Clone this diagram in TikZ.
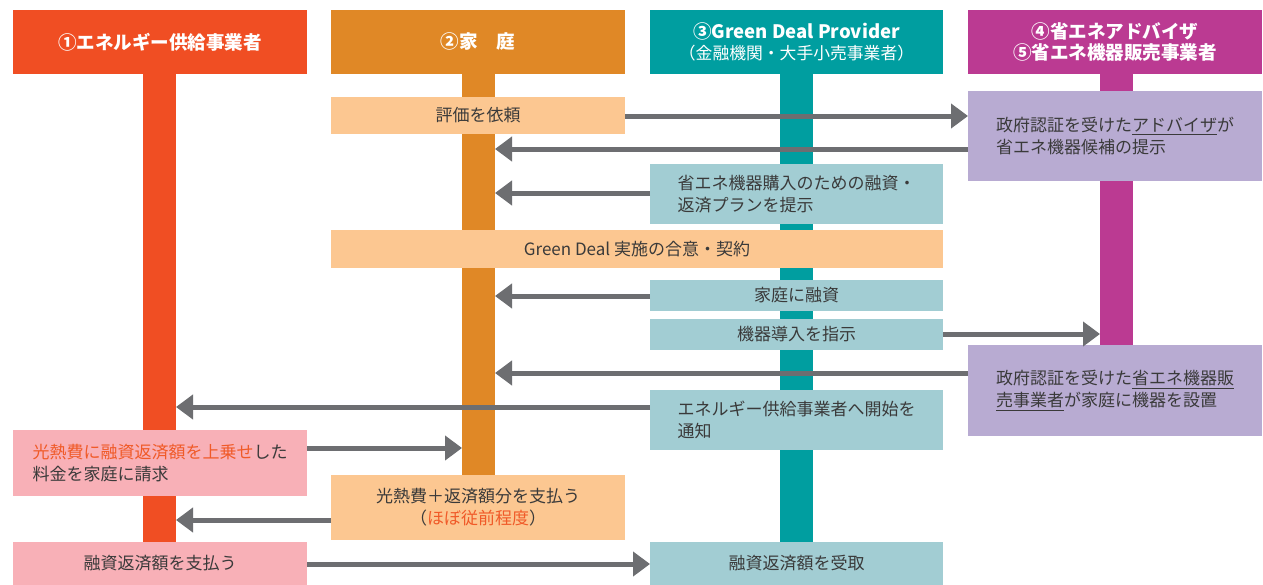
\documentclass[tikz,border=0pt]{standalone}
\usepackage{fontspec}
\setmainfont{Noto Sans CJK JP}
\usetikzlibrary{arrows.meta}
\definecolor{cA}{HTML}{F04E23}
\definecolor{cB}{HTML}{E08826}
\definecolor{cC}{HTML}{009EA0}
\definecolor{cD}{HTML}{BB3A92}
\definecolor{lOr}{HTML}{FCC791}
\definecolor{lTe}{HTML}{A2CDD3}
\definecolor{lPu}{HTML}{B8ABD2}
\definecolor{lPi}{HTML}{F8B0B7}
\definecolor{arrg}{HTML}{6D6E71}
\definecolor{txt}{HTML}{3A3A3A}
\definecolor{hl}{HTML}{F05A28}
\newcommand\bx[7]{\node[#6, minimum width={(#4-#2)*0.75pt}, minimum height={(#5-#3)*0.75pt}] (#1) at ({(#2+#4)/2},{(#3+#5)/2}) {#7};}
\tikzset{
  box/.style={inner sep=0pt, outer sep=0pt, text=txt, font=\fontsize{12.75}{16.5}\selectfont, align=center},
  hdr/.style={box, text=white, font=\fontsize{13.9}{15.75}\selectfont\bfseries},
  bar/.style={inner sep=0pt, outer sep=0pt},
  arr/.style={draw=arrg, line width=3.75pt, -{Triangle[length=12.75pt,width=18pt]}}
}
\begin{document}
\begin{tikzpicture}[x=0.75pt,y=-0.75pt]
\useasboundingbox[fill=white] (0,0) rectangle (1263,585);
% headers
\bx{h1}{13}{10}{307}{74}{hdr,fill=cA}{①エネルギー供給事業者}
\bx{h2}{331}{10}{625}{74}{hdr,fill=cB}{②家　庭}
\bx{h3}{650}{10}{943}{74}{hdr,fill=cC}{③Green Deal Provider\\{\fontsize{12.6}{15.75}\selectfont\mdseries （金融機関・大手小売事業者）}}
\bx{h4}{968}{10}{1262}{74}{hdr,fill=cD}{④省エネアドバイザ\\⑤省エネ機器販売事業者}
% lifelines
\bx{L1}{143}{74}{176}{542}{bar,fill=cA}{}
\bx{L2}{462}{74}{495}{475}{bar,fill=cB}{}
\bx{L3}{780}{74}{813}{542}{bar,fill=cC}{}
\bx{L4}{1100}{74}{1133}{345}{bar,fill=cD}{}
% boxes
\bx{a1}{331}{97}{625}{134}{box,fill=lOr}{評価を依頼}
\bx{p1}{968}{91}{1262}{181}{box,fill=lPu,align=left}{政府認証を受けた\underline{アドバイザ}が\\省エネ機器候補の提示}
\bx{t1}{650}{164}{943}{224}{box,fill=lTe,align=left}{省エネ機器購入のための融資・\\返済プランを提示}
\bx{g1}{331}{230}{943}{268}{box,fill=lOr}{Green Deal 実施の合意・契約}
\bx{t2}{650}{280}{943}{311}{box,fill=lTe}{家庭に融資}
\bx{t3}{650}{319}{943}{350}{box,fill=lTe}{機器導入を指示}
\bx{p2}{968}{345}{1262}{436}{box,fill=lPu,align=left}{政府認証を受けた\underline{省エネ機器販}\\\underline{売事業者}が家庭に機器を設置}
\bx{t4}{650}{390}{943}{450}{box,fill=lTe,align=left}{エネルギー供給事業者へ開始を\\通知}
\bx{k1}{13}{430}{307}{496}{box,fill=lPi,align=left}{{\color{hl}光熱費に融資返済額を上乗せ}した\\料金を家庭に請求}
\bx{o2}{331}{475}{625}{540}{box,fill=lOr}{光熱費＋返済額分を支払う\\（{\color{hl}ほぼ従前程度}）}
\bx{k2}{13}{542}{307}{585}{box,fill=lPi}{融資返済額を支払う}
\bx{t5}{650}{542}{943}{585}{box,fill=lTe}{融資返済額を受取}
% arrows
\draw[arr] (a1.east |- 0,116) -- (p1.west |- 0,116);
\draw[arr] (p1.west |- 0,149) -- (L2.east |- 0,149);
\draw[arr] (t1.west |- 0,193) -- (L2.east |- 0,193);
\draw[arr] (t2.west |- 0,296) -- (L2.east |- 0,296);
\draw[arr] (t3.east |- 0,334) -- (L4.west |- 0,334);
\draw[arr] (p2.west |- 0,373) -- (L2.east |- 0,373);
\draw[arr] (t4.west |- 0,407) -- (L1.east |- 0,407);
\draw[arr] (k1.east |- 0,448) -- (L2.west |- 0,448);
\draw[arr] (o2.west |- 0,520) -- (L1.east |- 0,520);
\draw[arr] (k2.east |- 0,564) -- (t5.west |- 0,564);
\end{tikzpicture}
\end{document}
